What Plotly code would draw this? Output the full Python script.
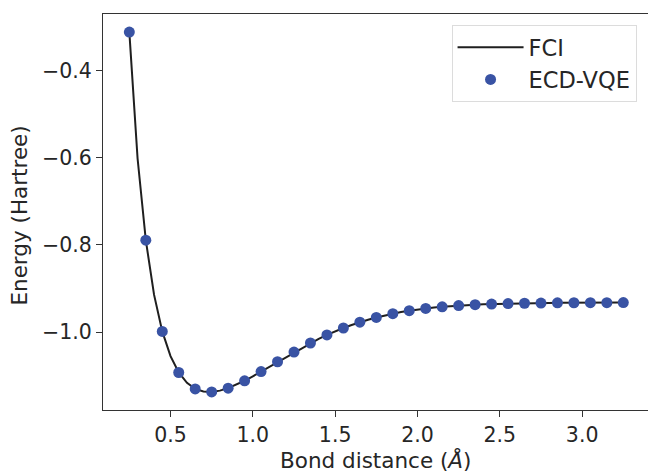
import plotly.graph_objects as go

fci_r = [0.25, 0.30, 0.35, 0.40, 0.45, 0.50, 0.55, 0.60, 0.65, 0.70, 0.75, 0.80,
         0.85, 0.90, 0.95, 1.00, 1.05, 1.10, 1.15, 1.20, 1.25, 1.30, 1.35, 1.40,
         1.45, 1.50, 1.55, 1.60, 1.65, 1.70, 1.75, 1.80, 1.85, 1.90, 1.95, 2.00,
         2.05, 2.10, 2.15, 2.20, 2.25, 2.30, 2.35, 2.40, 2.45, 2.50, 2.55, 2.60,
         2.65, 2.70, 2.75, 2.80, 2.85, 2.90, 2.95, 3.00, 3.05, 3.10, 3.15, 3.20, 3.25]
fci_e = [-0.3120, -0.6018, -0.7892, -0.9141, -0.9983, -1.0551, -1.0925, -1.1163,
         -1.1301, -1.1362, -1.1371, -1.1341, -1.1284, -1.1206, -1.1115, -1.1012,
         -1.0904, -1.0792, -1.0679, -1.0567, -1.0457, -1.0350, -1.0249, -1.0152,
         -1.0063, -0.9981, -0.9905, -0.9836, -0.9772, -0.9715, -0.9663, -0.9617,
         -0.9576, -0.9540, -0.9508, -0.9480, -0.9456, -0.9436, -0.9418, -0.9403,
         -0.9390, -0.9379, -0.9369, -0.9361, -0.9355, -0.9349, -0.9344, -0.9340,
         -0.9337, -0.9334, -0.9332, -0.9330, -0.9328, -0.9327, -0.9326, -0.9325,
         -0.9324, -0.9323, -0.9323, -0.9322, -0.9322]

vqe_r = [0.25, 0.35, 0.45, 0.55, 0.65, 0.75, 0.85, 0.95, 1.05, 1.15, 1.25, 1.35,
         1.45, 1.55, 1.65, 1.75, 1.85, 1.95, 2.05, 2.15, 2.25, 2.35, 2.45, 2.55,
         2.65, 2.75, 2.85, 2.95, 3.05, 3.15, 3.25]
vqe_e = [-0.3120, -0.7892, -0.9983, -1.0925, -1.1301, -1.1371, -1.1284, -1.1115,
         -1.0904, -1.0679, -1.0457, -1.0249, -1.0063, -0.9905, -0.9772, -0.9663,
         -0.9576, -0.9508, -0.9456, -0.9418, -0.9390, -0.9369, -0.9355, -0.9344,
         -0.9337, -0.9332, -0.9328, -0.9326, -0.9324, -0.9323, -0.9322]

x_ticks = [0.5, 1.0, 1.5, 2.0, 2.5, 3.0]
x_ticklabels = ["0.5", "1.0", "1.5", "2.0", "2.5", "3.0"]
y_ticks = [-1.0, -0.8, -0.6, -0.4]
y_ticklabels = ["\u22121.0", "\u22120.8", "\u22120.6", "\u22120.4"]

fig = go.Figure()
fig.add_trace(go.Scatter(x=fci_r, y=fci_e, mode="lines", name="FCI",
                         line=dict(color="#1f1f1f", width=2)))
fig.add_trace(go.Scatter(x=vqe_r, y=vqe_e, mode="markers", name="ECD-VQE",
                         marker=dict(color="#3953a4", size=11, line=dict(width=0))))

font = "DejaVu Sans, sans-serif"
txt = "#262626"
axis_common = dict(showline=True, linecolor="#333333", linewidth=1,
                   ticks="outside", ticklen=6, tickwidth=1, tickcolor="#333333",
                   showgrid=False, zeroline=False, automargin=False,
                   tickfont=dict(family=font, size=20.5, color=txt))

fig.update_layout(
    width=648, height=472,
    margin=dict(l=103, r=0, t=14, b=62),
    paper_bgcolor="white", plot_bgcolor="white",
    showlegend=True,
    legend=dict(x=0.979, y=0.972, xanchor="right", yanchor="top",
                bordercolor="#dcdcdc", borderwidth=1, bgcolor="rgba(255,255,255,0.8)",
                font=dict(family=font, size=22.5, color=txt),
                itemwidth=66, tracegroupgap=2),
    xaxis=dict(range=[0.09, 3.4], tickvals=x_ticks, ticktext=x_ticklabels,
               mirror=True, **axis_common),
    yaxis=dict(range=[-1.1785, -0.2705], tickvals=y_ticks, ticktext=y_ticklabels,
               mirror=False, **axis_common),
    annotations=[
        dict(text="Bond distance (<i>Å</i>)", xref="paper", yref="paper",
             x=0.5, y=-0.126, xanchor="center", yanchor="middle", showarrow=False,
             font=dict(family=font, size=21.5, color=txt)),
        dict(text="Energy (Hartree)", xref="paper", yref="paper",
             x=-0.153, y=0.49, xanchor="center", yanchor="middle", showarrow=False,
             textangle=-90, font=dict(family=font, size=21.5, color=txt)),
    ],
)

fig.write_html(
    "out.html",
    config={"displayModeBar": False},
    post_script="document.body.style.margin='0';document.body.style.overflow='hidden';",
)
